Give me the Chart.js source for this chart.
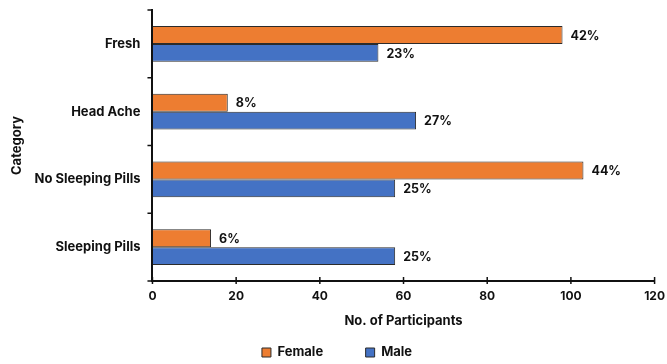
<!DOCTYPE html>
<html>
<head>
<meta charset="utf-8">
<script src="https://cdn.jsdelivr.net/npm/chart.js@4"></script>
<style>
  html, body { margin: 0; padding: 0; background: #fff; }
  #wrap { width: 667px; height: 364px; }
</style>
</head>
<body>
<div id="wrap"><canvas id="myChart"></canvas></div>
<script>
  const categories = ['Fresh', 'Head Ache', 'No Sleeping Pills', 'Sleeping Pills'];
  const female = [98, 18, 103, 14];
  const male = [54, 63, 58, 58];
  const femaleLabels = ['42%', '8%', '44%', '6%'];
  const maleLabels = ['23%', '27%', '25%', '25%'];

  const FONT = 'Inter';

  // draw percentage text at the end of each bar
  const barLabels = {
    id: 'barLabels',
    afterDatasetsDraw(chart) {
      const ctx = chart.ctx;
      ctx.save();
      ctx.font = 'bold 12.5px ' + FONT;
      ctx.fillStyle = '#111';
      ctx.textBaseline = 'middle';
      ctx.textAlign = 'left';
      chart.data.datasets.forEach((ds, i) => {
        const meta = chart.getDatasetMeta(i);
        meta.data.forEach((bar, j) => {
          ctx.fillText(ds.pctLabels[j], bar.x + 8, bar.y + 1);
        });
      });
      ctx.restore();
    }
  };

  // tick marks: x ticks point up into the plot, y ticks sit between categories
  const axisTicks = {
    id: 'axisTicks',
    afterDraw(chart) {
      const ctx = chart.ctx;
      const xs = chart.scales.x;
      const ys = chart.scales.y;
      const yb = chart.chartArea.bottom;
      const xl = chart.chartArea.left;
      ctx.save();
      ctx.strokeStyle = '#111';
      ctx.lineWidth = 1.5;
      xs.ticks.forEach(t => {
        const px = xs.getPixelForValue(t.value);
        ctx.beginPath();
        ctx.moveTo(px, yb + 3);
        ctx.lineTo(px, yb - 4);
        ctx.stroke();
      });
      for (let i = 0; i <= categories.length; i++) {
        const py = ys.getPixelForValue(i - 0.5);
        ctx.beginPath();
        ctx.moveTo(xl - 5, py);
        ctx.lineTo(xl, py);
        ctx.stroke();
      }
      ctx.restore();
    }
  };

  const ctx = document.getElementById('myChart');

  new Chart(ctx, {
    type: 'bar',
    data: {
      labels: categories,
      datasets: [{
        label: 'Female',
        data: female,
        pctLabels: femaleLabels,
        backgroundColor: '#ED7D31',
        borderColor: '#2b2b2b',
        borderWidth: 1
      }, {
        label: 'Male',
        data: male,
        pctLabels: maleLabels,
        backgroundColor: '#4472C4',
        borderColor: '#2b2b2b',
        borderWidth: 1
      }]
    },
    options: {
      indexAxis: 'y',
      responsive: true,
      maintainAspectRatio: false,
      animation: false,
      barPercentage: 1,
      categoryPercentage: 0.53,
      layout: { padding: { top: 10, right: 2, left: 9, bottom: -5 } },
      plugins: {
        legend: {
          position: 'bottom',
          labels: {
            font: { family: FONT, size: 13, weight: 'bold' },
            color: '#111',
            boxWidth: 9,
            boxHeight: 9,
            padding: 10,
            generateLabels(chart) {
              const items = Chart.defaults.plugins.legend.labels.generateLabels(chart);
              items[0].text = items[0].text + '\u2003\u2003\u2002';
              return items;
            }
          }
        },
        tooltip: { enabled: false }
      },
      scales: {
        x: {
          min: 0,
          max: 120,
          ticks: {
            stepSize: 20,
            color: '#111',
            font: { family: FONT, size: 12, weight: 'bold' },
            padding: 2
          },
          grid: {
            drawOnChartArea: false,
            color: 'rgba(0,0,0,0)',
            tickLength: 6
          },
          border: { color: '#111', width: 2 },
          title: {
            display: true,
            text: 'No. of Participants',
            color: '#111',
            font: { family: FONT, size: 13, weight: 'bold' },
            padding: { top: 8, bottom: 7 }
          }
        },
        y: {
          ticks: {
            color: '#111',
            font: { family: FONT, size: 13, weight: 'bold' },
            padding: 0
          },
          grid: {
            drawOnChartArea: false,
            color: 'rgba(0,0,0,0)',
            tickLength: 12
          },
          border: { color: '#111', width: 2 },
          title: {
            display: true,
            text: 'Category',
            color: '#111',
            font: { family: FONT, size: 13, weight: 'bold' },
            padding: { top: 0, bottom: 10 }
          }
        }
      }
    },
    plugins: [barLabels, axisTicks]
  });
</script>
</body>
</html>
